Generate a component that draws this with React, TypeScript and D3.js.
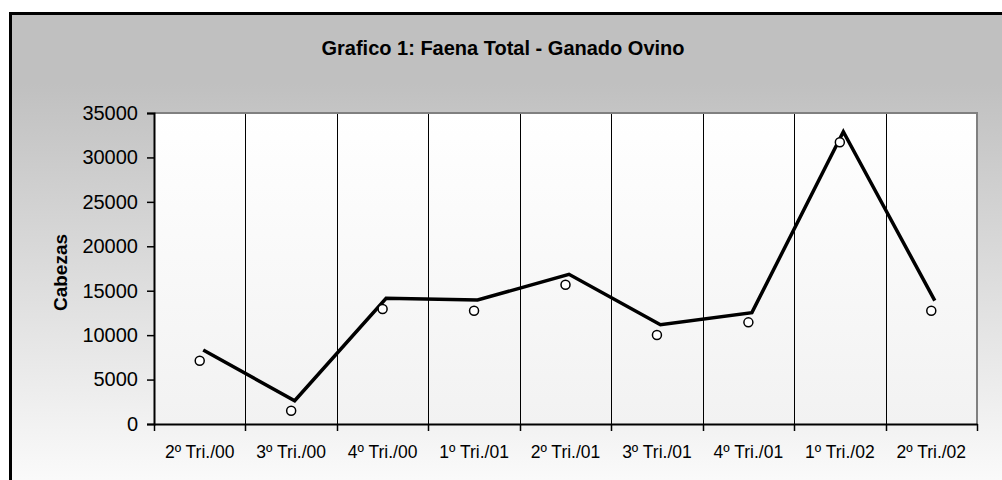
import React, { useRef, useEffect } from 'react';
import * as d3 from 'd3';

const categories = [
  '2º Tri./00',
  '3º Tri./00',
  '4º Tri./00',
  '1º Tri./01',
  '2º Tri./01',
  '3º Tri./01',
  '4º Tri./01',
  '1º Tri./02',
  '2º Tri./02',
];

// line series (thick black)
const lineValues = [8330, 2620, 14150, 13950, 16850, 11180, 12530, 32900, 13880];
// marker series (open circles)
const markerValues = [7120, 1500, 12940, 12750, 15680, 10020, 11440, 31700, 12750];

const yTicks = [0, 5000, 10000, 15000, 20000, 25000, 30000, 35000];

const title = 'Grafico 1: Faena Total - Ganado Ovino';
const yTitle = 'Cabezas';

const App = () => {
  const svgRef = useRef<SVGSVGElement>(null);

  useEffect(() => {
    const W = 1002;
    const H = 480;
    const plot = { left: 154, right: 977, top: 113, bottom: 424 };
    const font = '"Liberation Sans", Arial, sans-serif';

    const svg = d3.select(svgRef.current).attr('width', W).attr('height', H);
    svg.selectAll('*').remove();

    const defs = svg.append('defs');
    const bg = defs
      .append('linearGradient')
      .attr('id', 'bgGrad')
      .attr('x1', 0)
      .attr('y1', 0)
      .attr('x2', 0)
      .attr('y2', 1);
    bg.append('stop').attr('offset', '0%').attr('stop-color', '#c0c0c0');
    bg.append('stop').attr('offset', '14%').attr('stop-color', '#c0c0c0');
    bg.append('stop').attr('offset', '100%').attr('stop-color', '#ffffff');

    const pg = defs
      .append('linearGradient')
      .attr('id', 'plotGrad')
      .attr('x1', 0)
      .attr('y1', 0)
      .attr('x2', 0)
      .attr('y2', 1);
    pg.append('stop').attr('offset', '0%').attr('stop-color', '#ffffff');
    pg.append('stop').attr('offset', '100%').attr('stop-color', '#f2f2f2');

    // chart frame
    svg
      .append('rect')
      .attr('x', 10.5)
      .attr('y', 13.5)
      .attr('width', 1010)
      .attr('height', 500)
      .attr('fill', 'url(#bgGrad)')
      .attr('stroke', '#000')
      .attr('stroke-width', 3);

    const x = d3
      .scaleBand()
      .domain(categories)
      .range([plot.left, plot.right]);

    const y = d3
      .scaleLinear()
      .domain([0, 35000])
      .range([plot.bottom, plot.top]);

    // plot area
    svg
      .append('rect')
      .attr('x', plot.left)
      .attr('y', plot.top)
      .attr('width', plot.right - plot.left)
      .attr('height', plot.bottom - plot.top)
      .attr('fill', 'url(#plotGrad)');

    // vertical gridlines between categories
    svg
      .append('g')
      .selectAll('line')
      .data(categories.slice(1))
      .enter()
      .append('line')
      .attr('x1', (d) => Math.round(x(d)!) + 0.5)
      .attr('x2', (d) => Math.round(x(d)!) + 0.5)
      .attr('y1', plot.top)
      .attr('y2', plot.bottom)
      .attr('stroke', '#000')
      .attr('stroke-width', 1);

    // gray border top/right
    svg
      .append('path')
      .attr('d', `M${plot.left},${plot.top} H${plot.right} V${plot.bottom}`)
      .attr('fill', 'none')
      .attr('stroke', '#808080')
      .attr('stroke-width', 2);

    // y axis
    const yAxis = d3
      .axisLeft(y)
      .tickValues(yTicks)
      .tickSize(7)
      .tickPadding(9)
      .tickFormat((d) => String(d));
    const gy = svg
      .append('g')
      .attr('transform', `translate(${plot.left},0)`)
      .call(yAxis);
    gy.select('.domain').attr('stroke', '#000').attr('stroke-width', 2);
    gy.selectAll('.tick line').attr('stroke', '#000').attr('stroke-width', 1.5);
    gy.selectAll('.tick text')
      .attr('font-family', font)
      .attr('font-size', 20)
      .attr('fill', '#000');

    // x axis
    const xAxis = d3.axisBottom(x).tickSize(0).tickPadding(22);
    const gx = svg
      .append('g')
      .attr('transform', `translate(0,${plot.bottom})`)
      .call(xAxis);
    gx.select('.domain').attr('stroke', '#000').attr('stroke-width', 2);
    gx.selectAll('.tick text')
      .attr('font-family', font)
      .attr('font-size', 17.5)
      .attr('fill', '#000');
    gx.selectAll('.tick line').remove();

    // category boundary tick marks
    const bounds = [...categories.map((c) => x(c)!), plot.right];
    gx.selectAll('line.btick')
      .data(bounds)
      .enter()
      .append('line')
      .attr('class', 'btick')
      .attr('x1', (d) => Math.round(d) + 0.5)
      .attr('x2', (d) => Math.round(d) + 0.5)
      .attr('y1', 0)
      .attr('y2', 7)
      .attr('stroke', '#000')
      .attr('stroke-width', 1.5);

    const cx = (d: string) => x(d)! + x.bandwidth() / 2;

    // line series (drawn slightly to the right, as in the source)
    const line = d3
      .line<number>()
      .x((_, i) => cx(categories[i]))
      .y((d) => y(d));
    svg
      .append('path')
      .datum(lineValues)
      .attr('transform', 'translate(3.5,0)')
      .attr('d', line)
      .attr('fill', 'none')
      .attr('stroke', '#000')
      .attr('stroke-width', 3.5)
      .attr('stroke-linejoin', 'miter');

    // markers
    svg
      .append('g')
      .selectAll('circle')
      .data(markerValues)
      .enter()
      .append('circle')
      .attr('cx', (_, i) => cx(categories[i]))
      .attr('cy', (d) => y(d))
      .attr('r', 4.5)
      .attr('fill', '#fff')
      .attr('stroke', '#000')
      .attr('stroke-width', 1.5);

    // title
    svg
      .append('text')
      .attr('x', 503)
      .attr('y', 55)
      .attr('text-anchor', 'middle')
      .attr('font-family', font)
      .attr('font-weight', 'bold')
      .attr('font-size', 20)
      .attr('fill', '#000')
      .text(title);

    // y axis title
    svg
      .append('text')
      .attr('transform', `translate(67,${(plot.top + plot.bottom) / 2 + 4}) rotate(-90)`)
      .attr('text-anchor', 'middle')
      .attr('font-family', font)
      .attr('font-weight', 'bold')
      .attr('font-size', 19)
      .attr('fill', '#000')
      .text(yTitle);
  }, []);

  return (
    <svg
      ref={svgRef}
      style={{ position: 'absolute', left: 0, top: 0, display: 'block' }}
    ></svg>
  );
};

export default App;
